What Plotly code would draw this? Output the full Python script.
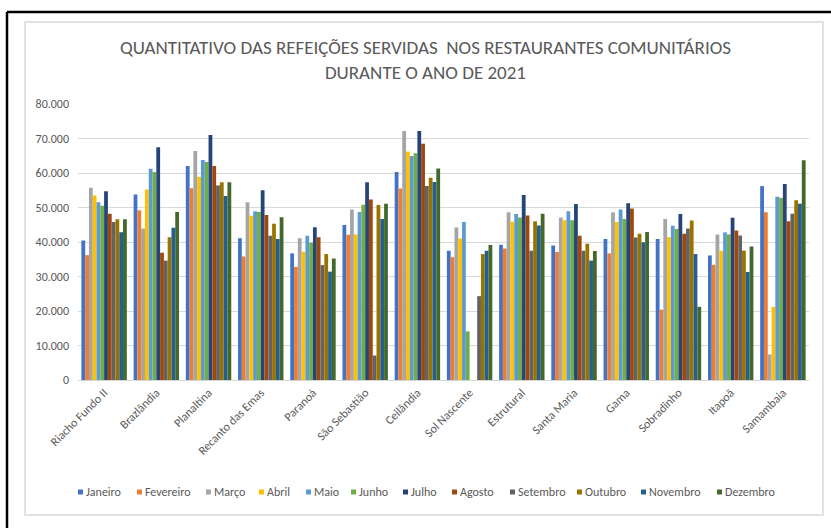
import plotly.graph_objects as go

# categorias (restaurantes comunitários)
restaurantes = ["Riacho Fundo II", "Brazlândia", "Planaltina", "Recanto das Emas", "Paranoá",
                "São Sebastião", "Ceilândia", "Sol Nascente", "Estrutural", "Santa Maria",
                "Gama", "Sobradinho", "Itapoã", "Samambaia"]

meses = ["Janeiro", "Fevereiro", "Março", "Abril", "Maio", "Junho",
         "Julho", "Agosto", "Setembro", "Outubro", "Novembro", "Dezembro"]

cores = ["#4472C4", "#ED7D31", "#A5A5A5", "#FFC000", "#5B9BD5", "#70AD47",
         "#264478", "#9E480E", "#636363", "#997300", "#255E91", "#43682B"]

# refeições por mês, na ordem dos restaurantes
janeiro   = [40400, 53800, 62000, 41100, 36700, 44900, 60300, 37500, 39200, 39000, 40900, 40900, 36100, 56200]
fevereiro = [36200, 49200, 55600, 35800, 32800, 42100, 55500, 35600, 38100, 37100, 36700, 20400, 33400, 48600]
marco     = [55700, 43900, 66400, 51500, 41100, 49400, 72200, 44200, 48600, 47100, 48600, 46700, 42200, 7400]
abril     = [53500, 55200, 58900, 47600, 37200, 42200, 66200, 41000, 45900, 46300, 45800, 41400, 37500, 21200]
maio      = [51500, 61200, 63800, 48900, 41800, 48700, 64900, 45800, 48100, 48900, 49400, 44700, 42800, 53100]
junho     = [50500, 60300, 63200, 48700, 39800, 50800, 65700, 14100, 47100, 46300, 46700, 43800, 42200, 52800]
julho     = [54700, 67500, 71000, 55000, 44300, 57300, 72200, None, 53600, 51000, 51200, 48100, 47000, 56800]
agosto    = [48200, 36900, 62000, 47800, 41400, 52300, 68500, None, 47700, 41800, 49700, 42400, 43300, 46000]
setembro  = [45800, 34600, 56400, 41800, 33300, 7100, 56200, 24300, 37500, 37500, 41300, 43900, 41900, 48200]
outubro   = [46600, 41400, 57300, 45300, 36500, 50700, 58600, 36500, 46000, 39500, 42400, 46200, 37500, 52100]
novembro  = [42800, 44100, 53300, 40900, 31400, 46700, 57400, 37500, 44800, 34600, 39900, 36500, 31300, 51100]
dezembro  = [46600, 48700, 57300, 47200, 35200, 51100, 61300, 39100, 48200, 37400, 42900, 21200, 38700, 63700]

valores = [janeiro, fevereiro, marco, abril, maio, junho,
           julho, agosto, setembro, outubro, novembro, dezembro]

y_ticks = [0, 10000, 20000, 30000, 40000, 50000, 60000, 70000, 80000]

FONT = "Carlito, 'Liberation Sans Narrow', 'Liberation Sans', Arial, sans-serif"
CINZA = "#595959"

fig = go.Figure()
for mes, cor, vals in zip(meses, cores, valores):
    fig.add_trace(go.Bar(x=restaurantes, y=vals, name=mes, marker_color=cor,
                         marker_line_width=0, showlegend=False))

# legenda desenhada à mão (estilo Excel: quadradinho + texto)
leg_x = [78, 137, 206, 259, 306, 351, 403, 452, 510, 577, 641, 717]
leg_y = 492
shapes = []
annotations = []
for mes, cor, x0 in zip(meses, cores, leg_x):
    shapes.append(dict(type="rect", xref="paper", yref="paper",
                       x0=(x0 - 78) / 731, x1=(x0 - 78 + 5) / 731,
                       y0=(380 - leg_y - 2.5) / 276, y1=(380 - leg_y + 2.5) / 276,
                       fillcolor=cor, line_width=0))
    annotations.append(dict(text=mes, xref="paper", yref="paper",
                            x=(x0 - 78 + 5.5) / 731, y=(380 - leg_y) / 276,
                            xanchor="left", yanchor="middle", showarrow=False,
                            font=dict(family=FONT, size=12, color=CINZA)))

# bordas do quadro
shapes.append(dict(type="rect", xref="paper", yref="paper",
                   x0=(25 - 78) / 731, x1=(823 - 78) / 731,
                   y0=(380 - 515) / 276, y1=(380 - 22) / 276,
                   line=dict(color="#D9D9D9", width=1.5), fillcolor="rgba(0,0,0,0)"))
shapes.append(dict(type="line", xref="paper", yref="paper",
                   x0=(7 - 78) / 731, x1=(831 - 78) / 731,
                   y0=(380 - 12) / 276, y1=(380 - 12) / 276,
                   line=dict(color="black", width=2.5)))
shapes.append(dict(type="line", xref="paper", yref="paper",
                   x0=(7 - 78) / 731, x1=(7 - 78) / 731,
                   y0=(380 - 528) / 276, y1=(380 - 12) / 276,
                   line=dict(color="black", width=2.5)))

fig.update_layout(
    width=831, height=528,
    margin=dict(l=78, r=22, t=104, b=148, autoexpand=False),
    paper_bgcolor="white", plot_bgcolor="white",
    separators=",.",
    barmode="group", bargap=0.13, bargroupgap=0,
    title=dict(text="QUANTITATIVO DAS REFEIÇÕES SERVIDAS  NOS RESTAURANTES COMUNITÁRIOS<br>DURANTE O ANO DE 2021",
               x=0.512, xanchor="center", y=0.898, yanchor="middle",
               font=dict(family=FONT, size=19, color=CINZA)),
    font=dict(family=FONT, color=CINZA),
    shapes=shapes,
    annotations=annotations,
)
fig.update_xaxes(tickangle=-45, tickfont=dict(family=FONT, size=12, color=CINZA),
                 showline=True, linecolor="#D9D9D9", linewidth=1, ticks="",
                 showgrid=False)
fig.update_yaxes(range=[0, 80000], tickvals=y_ticks, tickformat=",d",
                 tickfont=dict(family=FONT, size=12, color=CINZA),
                 showgrid=True, gridcolor="#D9D9D9", gridwidth=1,
                 zeroline=False, showline=False, ticks="", ticklen=0, ticklabelstandoff=8)

# sem margem da página, para a figura ocupar a janela inteira
fig.write_html("out.html", config={"displayModeBar": False},
               post_script="document.body.style.margin='0';")
